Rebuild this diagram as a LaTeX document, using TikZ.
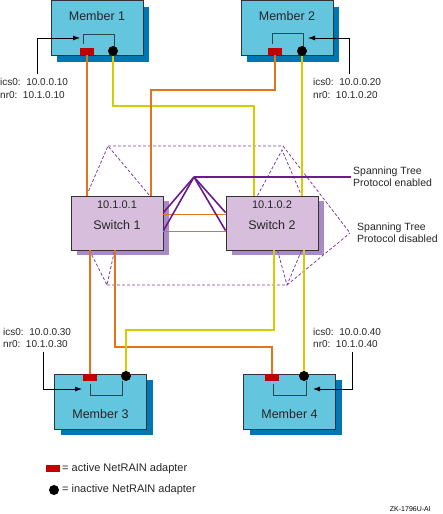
\documentclass[tikz,border=0pt]{standalone}
\usepackage{fontspec}
\setmainfont{Liberation Sans}
\usetikzlibrary{shadows,arrows.meta}
\definecolor{memfill}{HTML}{63C5DE}
\definecolor{memshadow}{HTML}{0077B4}
\definecolor{swfill}{HTML}{D7BEDD}
\definecolor{swshadow}{HTML}{A88BC6}
\definecolor{wireorange}{HTML}{E3741E}
\definecolor{wireyellow}{HTML}{D2CC00}
\definecolor{stppurple}{HTML}{6A1B8E}
\definecolor{adapterred}{HTML}{C00000}
\definecolor{bracketgray}{HTML}{30444E}
\tikzset{
  member/.style={draw=black!80, line width=0.9pt, fill=memfill, minimum width=92pt, minimum height=55pt, inner sep=0pt,
    drop shadow={shadow xshift=6pt, shadow yshift=-6pt, fill=memshadow, opacity=1}},
  switchbox/.style={draw=black!80, line width=0.9pt, fill=swfill, minimum width=92pt, minimum height=54pt, inner sep=0pt,
    drop shadow={shadow xshift=6pt, shadow yshift=-5pt, fill=swshadow, opacity=1}},
  memtext/.style={inner sep=0pt, font=\fontsize{12.5}{15}\selectfont, text=black!85},
  swip/.style={inner sep=0pt, font=\fontsize{11}{13}\selectfont, text=black!85},
  iptext/.style={inner sep=0pt, align=left, anchor=west, font=\fontsize{10}{12.5}\selectfont, text=black!85},
  stptext/.style={inner sep=0pt, align=left, anchor=west, font=\fontsize{10.5}{12}\selectfont, text=black!85},
  legtext/.style={inner sep=0pt, anchor=west, font=\fontsize{11}{13}\selectfont, text=black!85},
  redad/.style={rectangle, fill=adapterred, minimum width=14pt, minimum height=7pt, inner sep=0pt},
  dotad/.style={circle, fill=black, minimum size=10pt, inner sep=0pt},
  orangewire/.style={draw=wireorange, line width=1.6pt},
  yellowwire/.style={draw=wireyellow, line width=1.6pt},
  stpline/.style={draw=stppurple, line width=1.6pt},
  stpdash/.style={draw=stppurple!85, line width=0.8pt, dash pattern=on 3pt off 2pt},
  bracket/.style={draw=bracketgray, line width=0.9pt},
  pointer/.style={draw=black, line width=0.8pt, -{Latex[length=7pt,width=5pt]}}
}
\begin{document}
\begin{tikzpicture}[x=1pt,y=-1pt]
  \useasboundingbox (0,0) rectangle (443,514);
  % members and switches
  \node[member] (m1) at (97,28) {};
  \node[member] (m2) at (287,28) {};
  \node[member] (m3) at (100.5,401.5) {};
  \node[member] (m4) at (289.5,401.5) {};
  \node[switchbox] (s1) at (117,223) {};
  \node[switchbox] (s2) at (272,223) {};
  \node[memtext] (m1t) at ([yshift=-16pt]m1.north) {Member 1};
  \node[memtext] (m2t) at ([yshift=-16pt]m2.north) {Member 2};
  \node[memtext] (m3t) at ([yshift=15pt]m3.south) {Member 3};
  \node[memtext] (m4t) at ([yshift=15pt]m4.south) {Member 4};
  \node[swip] (s1ip) at ([yshift=-9pt]s1.north) {10.1.0.1};
  \node[memtext] (s1t) at ([yshift=-29pt]s1.north) {Switch 1};
  \node[swip] (s2ip) at ([yshift=-9pt]s2.north) {10.1.0.2};
  \node[memtext] (s2t) at ([yshift=-29pt]s2.north) {Switch 2};
  % adapter positions
  \coordinate (r1) at (87,51);
  \coordinate (d1) at (113,51);
  \coordinate (r2) at (275,51);
  \coordinate (d2) at (302,51);
  \coordinate (r3) at (90,377);
  \coordinate (d3) at (126,376);
  \coordinate (r4) at (272,377);
  \coordinate (d4) at (304,376);
  % spanning tree disabled (dashed)
  \coordinate (tl) at (108,146);
  \coordinate (tr) at (283,146);
  \coordinate (tr2) at (282,150);
  \coordinate (bl) at (107,285);
  \coordinate (br) at (287,285);
  \node[stptext] (stpoff) at (357,233) {Spanning Tree\\Protocol disabled};
  \coordinate (offpt) at ([xshift=-7pt]stpoff.west);
  \draw[stpdash] ([xshift=16pt]s1.north west) -- (tl) -- ([xshift=79pt]s1.north west);
  \draw[stpdash] (tl) -- (tr) -- (offpt);
  \draw[stpdash] ([xshift=32pt]s2.north west) -- (tr2) -- ([xshift=76pt]s2.north west);
  \draw[stpdash] ([xshift=19pt]s1.south west) -- (bl) -- ([xshift=44pt]s1.south west);
  \draw[stpdash] (bl) -- (br) -- (offpt);
  \draw[stpdash] ([xshift=52pt]s2.south west) -- (br) -- ([xshift=76pt]s2.south west);
  % wires to switches
  \coordinate (y1) at (254,106);
  \coordinate (o2) at (151,90);
  \coordinate (o4) at (115,347);
  \coordinate (y3) at (274,330);
  \draw[orangewire] (r1) -- (r1 |- s1.north);
  \draw[yellowwire] (d1) |- (y1) -- (y1 |- s2.north);
  \draw[orangewire] (r2) |- (o2) -- (o2 |- s1.north);
  \draw[yellowwire] (d2) -- (d2 |- s2.north);
  \draw[orangewire] (r3) -- (r3 |- s1.south);
  \draw[orangewire] (r4) |- (o4) -- (o4 |- s1.south);
  \draw[yellowwire] (d3) |- (y3) -- (y3 |- s2.south);
  \draw[yellowwire] (d4) -- (d4 |- s2.south);
  \draw[orangewire] ([yshift=-19pt]s1.north east) -- ([yshift=-19pt]s2.north west);
  \draw[orangewire] ([yshift=-36pt]s1.north east) -- ([yshift=-36pt]s2.north west);
  % spanning tree enabled
  \coordinate (stp) at (194,177);
  \node[stptext] (stpon) at (353,177) {Spanning Tree\\Protocol enabled};
  \draw[stpline] (stp) -- ([xshift=-2pt]stpon.west);
  \draw[stpline] (stp) -- ([yshift=-17pt]s1.north east);
  \draw[stpline] (stp) -- ([yshift=-35pt]s1.north east);
  \draw[stpline] (stp) -- ([yshift=-17pt]s2.north west);
  \draw[stpline] (stp) -- ([yshift=-35pt]s2.north west);
  % brackets
  \draw[bracket] (83,44) -- (83,34) -- (114,34) -- (114,47);
  \draw[bracket] (272,44) -- (272,33) -- (303,33) -- (303,47);
  \draw[bracket] (90,384) -- (90,395) -- (122,395) -- (122,381);
  \draw[bracket] (273,384) -- (273,395) -- (306,395) -- (306,381);
  % adapters
  \node[redad] (r1a) at (r1) {};
  \node[dotad] (d1a) at (d1) {};
  \node[redad] (r2a) at (r2) {};
  \node[dotad] (d2a) at (d2) {};
  \node[redad] (r3a) at (r3) {};
  \node[dotad] (d3a) at (d3) {};
  \node[redad] (r4a) at (r4) {};
  \node[dotad] (d4a) at (d4) {};
  % addresses
  \node[iptext] (ip1) at (0,88.5) {ics0:~~10.0.0.10\\nr0:~~10.1.0.10};
  \node[iptext] (ip2) at (313,88.5) {ics0:~~10.0.0.20\\nr0:~~10.1.0.20};
  \node[iptext] (ip3) at (3,338) {ics0:~~10.0.0.30\\nr0:~~10.1.0.30};
  \node[iptext] (ip4) at (313,338) {ics0:~~10.0.0.40\\nr0:~~10.1.0.40};
  \coordinate (m1in) at (80,38);
  \coordinate (m2in) at (308,38);
  \coordinate (m3in) at (82,389);
  \coordinate (m4in) at (313,389);
  \draw[pointer] ([shift={(37pt,4pt)}]ip1.north west) |- (m1in);
  \draw[pointer] ([shift={(36pt,4pt)}]ip2.north west) |- (m2in);
  \draw[pointer] ([shift={(40pt,-4pt)}]ip3.south west) |- (m3in);
  \draw[pointer] ([shift={(39pt,-4pt)}]ip4.south west) |- (m4in);
  % legend
  \node[redad] (legred) at (53,468) {};
  \node[legtext] (legredt) at (62,469) {= active NetRAIN adapter};
  \node[dotad] (legdot) at (54,490) {};
  \node[legtext] (legdott) at (62,490) {= inactive NetRAIN adapter};
  \node[anchor=east, inner sep=0pt, font=\fontsize{7}{8}\selectfont] (figid) at (431,509) {ZK-1796U-AI};
\end{tikzpicture}
\end{document}
